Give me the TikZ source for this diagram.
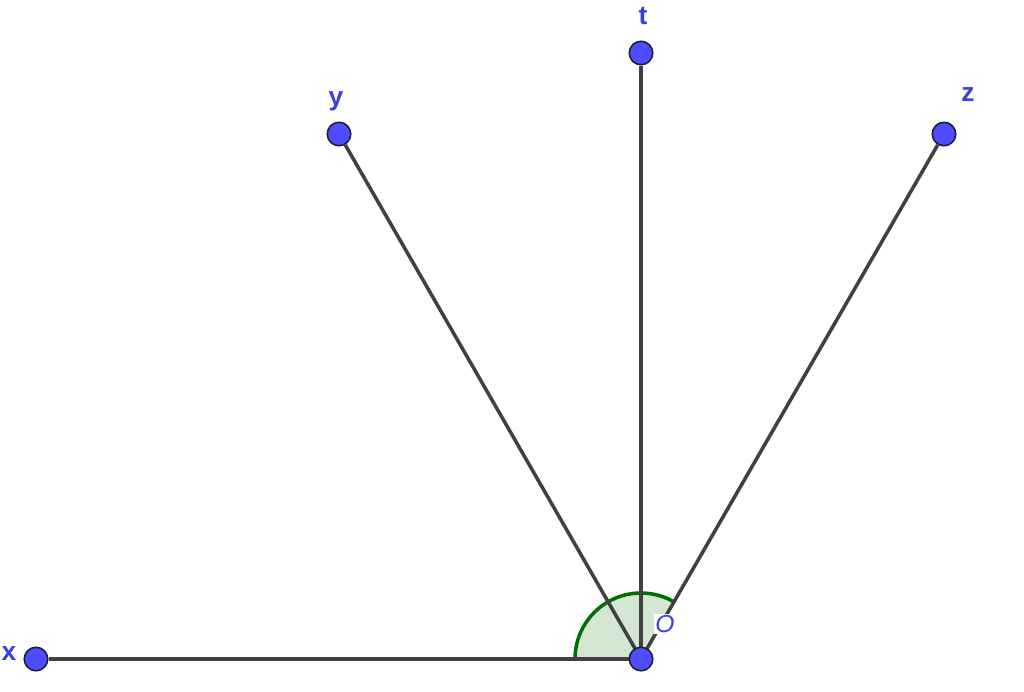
\documentclass[tikz,border=0pt]{standalone}
\usepackage{fontspec}
\setmainfont{Liberation Sans}
\definecolor{ptblue}{RGB}{77,77,255}
\definecolor{labblue}{RGB}{60,60,230}
\definecolor{ptedge}{RGB}{30,30,60}
\definecolor{segcol}{RGB}{64,64,64}
\definecolor{angfill}{RGB}{210,230,210}
\definecolor{angline}{RGB}{0,110,0}
\begin{document}
\begin{tikzpicture}[x=0.02cm,y=-0.02cm,
  pt/.style={circle,fill=ptblue,draw=ptedge,line width=0.9pt,minimum size=0.47cm,inner sep=0pt},
  lab/.style={text=labblue,font=\fontsize{15}{17}\selectfont\bfseries,inner sep=0pt},
  seg/.style={draw=segcol,line width=2pt}]
\useasboundingbox[fill=white] (0,0) rectangle (1024,691);
\coordinate (O) at (641,659);
\fill[angfill] (O) -- ++(180:66) arc[start angle=180,end angle=60,radius=66*0.02cm] -- cycle;
\draw[angline,line width=2pt] (O) ++(180:66) arc[start angle=180,end angle=60,radius=66*0.02cm];
\draw[angline,line width=2pt] (O) -- ++(180:66);
\node[pt] (x) at (36,659) {};
\node[pt] (y) at (339,134) {};
\node[pt] (t) at (641,53) {};
\node[pt] (z) at (944,134) {};
\draw[seg] (x) -- (O);
\draw[seg] (y) -- (O);
\draw[seg] (t) -- (O);
\draw[seg] (z) -- (O);
\node[text=labblue,font=\fontsize{14}{16}\selectfont\itshape,fill=white,inner sep=1pt] (ol) at (665,624) {O};
\node[pt] (o) at (O) {};
\node[lab] (xl) at (9,654) {x};
\node[lab] (yl) at (336,101) {y};
\node[lab] (tl) at (643,16) {t};
\node[lab] (zl) at (968,95) {z};
\end{tikzpicture}
\end{document}
